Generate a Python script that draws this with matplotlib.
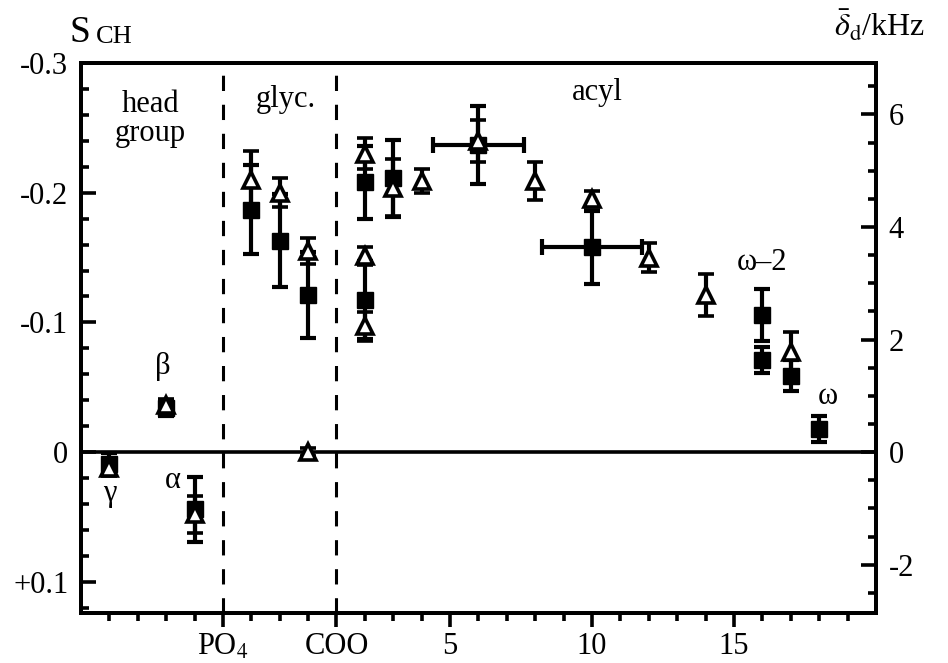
import numpy as np
import matplotlib
matplotlib.use("Agg")
import matplotlib.pyplot as plt
from matplotlib.ticker import MultipleLocator, FixedLocator

plt.rcParams['font.family'] = ['Liberation Serif', 'DejaVu Serif']
plt.rcParams['mathtext.fontset'] = 'stix'

# squares (filled): position, S_CH, error
sq_x = [-7, -5, -4, -2, -1, 0, 2, 2, 3, 6, 10, 16, 16, 17, 18]
sq_s = [0.009, -0.034, 0.044, -0.187, -0.163, -0.121, -0.208, -0.117, -0.211,
        -0.237, -0.158, -0.106, -0.071, -0.059, -0.018]
sq_err = [0.008, 0.006, 0.025, 0.034, 0.036, 0.033, 0.028, 0.030, 0.030,
          0.030, 0.028, 0.020, 0.010, 0.012, 0.010]
sq_xerr = [0, 0, 0, 0, 0, 0, 0, 0, 0, 1.6, 1.75, 0, 0, 0, 0]

# triangles (open)
tr_x = [-7, -5, -4, -2, -1, 0, 0, 2, 2, 2, 3, 4, 6, 8, 10, 12, 14, 17]
tr_s = [0.012, -0.036, 0.048, -0.210, -0.200, -0.155, 0.0, -0.230, -0.151,
        -0.097, -0.204, -0.209, -0.240, -0.209, -0.195, -0.150, -0.121, -0.077]
tr_err = [0.006, 0.005, 0.014, 0.022, 0.011, 0.010, 0.003, 0.012, 0.007,
          0.011, 0.022, 0.009, 0.016, 0.015, 0.006, 0.011, 0.016, 0.016]

K = 23.05  # S_CH -> kHz
s_lim = (0.124, -0.30)

fig = plt.figure(figsize=(9.48, 6.63), dpi=100)
ax = fig.add_axes([0.0854, 0.0754, 0.8386, 0.8296])

ax.axhline(0, color='k', lw=2.6, zorder=1)
for xv in (-3, 1):
    ax.axvline(xv, color='k', lw=2.2, ls=(0, (5, 4.5)), zorder=1)

ebkw = dict(ecolor='k', elinewidth=3, capsize=6, capthick=3, ls='none')
ax.errorbar(sq_x, sq_s, yerr=sq_err, fmt='s', mfc='k', mec='k', ms=11, zorder=3, **ebkw)
xm = np.array(sq_xerr) > 0
ax.errorbar(np.array(sq_x)[xm], np.array(sq_s)[xm], xerr=np.array(sq_xerr)[xm],
            fmt='none', zorder=2, **ebkw)
ax.errorbar(tr_x, tr_s, yerr=tr_err, fmt='^', mfc='white', mec='k', ms=12,
            mew=2.6, zorder=4, **ebkw)

ax.set_xlim(-8, 20)
ax.set_ylim(*s_lim)

ax.xaxis.set_major_locator(FixedLocator([-3, 1, 5, 10, 15]))
ax.set_xticklabels(['PO$_4$', 'COO', '5', '10', '15'])
ax.xaxis.set_minor_locator(FixedLocator(np.arange(-7, 20, 1)))
ax.yaxis.set_major_locator(FixedLocator([-0.3, -0.2, -0.1, 0, 0.1]))
ax.set_yticklabels(['-0.3', '-0.2', '-0.1', '0', '+0.1'])
ax.yaxis.set_minor_locator(MultipleLocator(0.02))

fs = 22
ax.tick_params(axis='x', which='major', direction='out', length=10, width=2.6,
               labelsize=fs, pad=4, top=False)
ax.tick_params(axis='x', which='minor', direction='out', length=6, width=2.6, top=False)
ax.tick_params(axis='y', which='major', direction='in', length=11, width=2.6,
               labelsize=fs, pad=9)
ax.tick_params(axis='y', which='minor', direction='in', length=6, width=2.6)
for sp in ax.spines.values():
    sp.set_linewidth(2.8)

ax2 = ax.twinx()
ax2.set_ylim(-s_lim[0] * K, -s_lim[1] * K)
ax2.yaxis.set_major_locator(FixedLocator([-2, 0, 2, 4, 6]))
ax2.set_yticklabels(['-2', '0', '2', '4', '6'])
ax2.yaxis.set_minor_locator(MultipleLocator(0.5))
ax2.tick_params(axis='y', which='major', direction='in', length=11, width=2.6,
                labelsize=fs, pad=9)
ax2.tick_params(axis='y', which='minor', direction='in', length=6, width=2.6)
for sp in ax2.spines.values():
    sp.set_linewidth(2.8)

ax.text(-5.55, -0.257, 'head\ngroup', ha='center', va='center', fontsize=fs, linespacing=1.0)
ax.text(-0.8, -0.272, 'glyc.', ha='center', va='center', fontsize=fs)
ax.text(10.2, -0.277, 'acyl', ha='center', va='center', fontsize=fs)
ax.text(-5.1, -0.066, 'β', ha='center', va='center', fontsize=fs)
ax.text(-7.0, 0.032, 'γ', ha='center', va='center', fontsize=fs)
ax.text(-4.75, 0.022, 'α', ha='center', va='center', fontsize=fs)
ax.text(16.0, -0.146, 'ω–2', ha='center', va='center', fontsize=fs)
ax.text(18.3, -0.043, 'ω', ha='center', va='center', fontsize=fs)

fig.text(70 / 948, 1 - 42 / 663, 'S', fontsize=27, ha='left', va='baseline')
fig.text(96 / 948, 1 - 43 / 663, 'CH', fontsize=19, ha='left', va='baseline')
fig.text(834 / 948, 1 - 37 / 663, r'$\bar{\delta}_{\mathrm{d}}$/kHz', fontsize=23,
         ha='left', va='baseline')

fig.savefig('out.png', dpi=100)
